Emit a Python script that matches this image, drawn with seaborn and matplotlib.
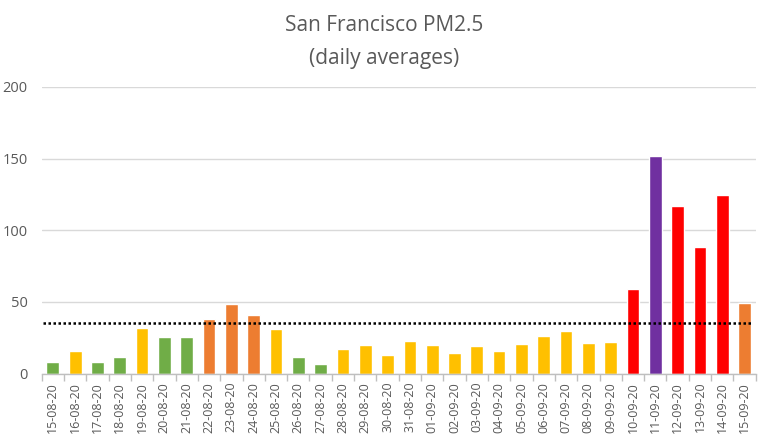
import matplotlib
matplotlib.use("Agg")
import matplotlib.pyplot as plt
import seaborn as sns
import pandas as pd
import numpy as np

dates = ["15-08-20", "16-08-20", "17-08-20", "18-08-20", "19-08-20", "20-08-20",
         "21-08-20", "22-08-20", "23-08-20", "24-08-20", "25-08-20", "26-08-20",
         "27-08-20", "28-08-20", "29-08-20", "30-08-20", "31-08-20", "01-09-20",
         "02-09-20", "03-09-20", "04-09-20", "05-09-20", "06-09-20", "07-09-20",
         "08-09-20", "09-09-20", "10-09-20", "11-09-20", "12-09-20", "13-09-20",
         "14-09-20", "15-09-20"]
pm25 = [8.2, 15.5, 8.2, 11.3, 31.7, 25.4, 25.4, 38.0, 48.4, 40.6, 31.2, 11.3,
        6.6, 17.1, 20.2, 12.9, 22.8, 20.0, 14.6, 19.2, 15.5, 20.9, 26.3, 30.0,
        21.4, 22.1, 58.7, 151.8, 117.2, 88.0, 124.5, 49.3]
levels = ["Good", "Moderate", "Good", "Good", "Moderate", "Good", "Good",
          "USG", "USG", "USG", "Moderate", "Good", "Good", "Moderate", "Moderate",
          "Moderate", "Moderate", "Moderate", "Moderate", "Moderate", "Moderate",
          "Moderate", "Moderate", "Moderate", "Moderate", "Moderate", "Unhealthy",
          "Very unhealthy", "Unhealthy", "Unhealthy", "Unhealthy", "USG"]
level_colors = {"Good": "#70AD47", "Moderate": "#FFC000", "USG": "#ED7D31",
                "Unhealthy": "#FF0000", "Very unhealthy": "#7030A0"}
threshold = 35
title = "San Francisco PM2.5\n(daily averages)"
yticks = [0, 50, 100, 150, 200]

df = pd.DataFrame({"date": dates, "pm": pm25, "level": levels})

sns.set_theme(style="white")
plt.rcParams["font.family"] = ["Open Sans", "DejaVu Sans"]
txt = "#595959"

fig = plt.figure(figsize=(7.68, 4.37), dpi=100)
ax = fig.add_axes([0.0543, 0.1453, 0.9297, 0.6557])

sns.barplot(data=df, x="date", y="pm", hue="level", palette=level_colors,
            dodge=False, width=0.57, legend=False, ax=ax, saturation=1)

ax.hlines(threshold, -0.45, len(dates) - 0.7, colors="black",
          linestyles=(0, (1, 1.0)), linewidth=1.8, zorder=5)

ax.set_ylim(0, 200)
ax.set_xlim(-0.5, len(dates) - 0.5)
ax.set_yticks(yticks)
ax.yaxis.grid(True, color="#D9D9D9", linewidth=1.0)
ax.set_axisbelow(True)
for s in ["top", "right", "left"]:
    ax.spines[s].set_visible(False)
ax.spines["bottom"].set_color("#BFBFBF")
ax.spines["bottom"].set_linewidth(1.0)

ax.set_xlabel("")
ax.set_ylabel("")
ax.tick_params(axis="y", length=0, labelsize=10.5, labelcolor=txt, pad=10)
ax.tick_params(axis="x", which="major", length=0, labelsize=9, labelcolor=txt, pad=6)
plt.setp(ax.get_xticklabels(), rotation=90)
ax.set_xticks(np.arange(-0.5, len(dates), 1), minor=True)
ax.tick_params(axis="x", which="minor", length=5, color="#BFBFBF", width=1, bottom=True)

fig.text(0.5, 0.905, title, ha="center", va="center", fontsize=15,
         color=txt, linespacing=1.75)

fig.savefig("out.png", dpi=100)
